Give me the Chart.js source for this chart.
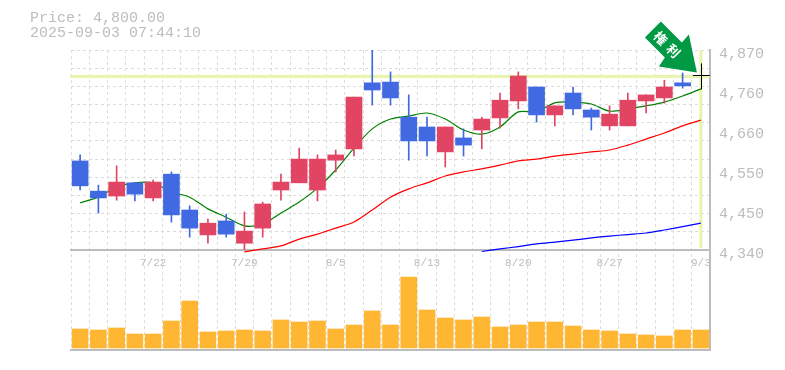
<!DOCTYPE html>
<html>
<head>
<meta charset="utf-8">
<style>
  html, body { margin: 0; padding: 0; background: #fff; }
  canvas { display: block; }
</style>
<script src="https://cdn.jsdelivr.net/npm/chart.js@4"></script>
</head>
<body>
<canvas id="c" width="785" height="370"></canvas>
<script>
// --- Data ---
const dates = ['7/15','7/16','7/17','7/18','7/22','7/23','7/24','7/25','7/28','7/29','7/30','7/31','8/1','8/4','8/5','8/6','8/7','8/8','8/12','8/13','8/14','8/15','8/18','8/19','8/20','8/21','8/22','8/25','8/26','8/27','8/28','8/29','9/1','9/2','9/3'];
const tickDates = ['7/22','7/29','8/5','8/13','8/20','8/27','9/3'];

const opens  = [4576,4496,4483,4518,4478,4541,4446,4380,4417,4358,4398,4499,4518,4499,4578,4608,4783,4785,4692,4666,4600,4637,4658,4690,4735,4772,4698,4756,4711,4669,4669,4735,4743,4783,null];
const closes = [4510,4478,4520,4488,4520,4433,4398,4411,4382,4390,4462,4520,4581,4581,4592,4745,4764,4743,4629,4629,4666,4618,4687,4737,4801,4698,4722,4714,4692,4700,4737,4751,4772,4775,null];
const highs  = [4592,4512,4563,4518,4525,4547,4457,4422,4435,4441,4467,4541,4610,4592,4605,4745,4870,4812,4751,4692,4666,4661,4692,4756,4812,4772,4722,4772,4716,4722,4756,4751,4790,4809,null];
const lows   = [4499,4438,4472,4470,4470,4414,4374,4358,4374,4337,4374,4472,4518,4470,4547,4589,4724,4724,4578,4589,4560,4589,4608,4663,4714,4679,4669,4698,4658,4658,4669,4703,4729,4769,null];
const volumes = [19,18,20,14,14,27,47,16,17,18,17,28,26,27,19,23,37,23,71,38,30,28,31,21,23,26,26,22,18,17,14,13,12,18,18];

const lastPrice = 4800;
const maShort = [4465,4480,4507,4518,4518,4494,4480,4449,4427,4404,4409,4438,4467,4504,4552,4610,4661,4687,4695,4703,4687,4658,4647,4666,4706,4706,4730,4732,4727,4708,4714,4722,4732,4748,4767];
const maMid = [null,null,null,null,null,null,null,null,null,4335,4343,4351,4369,4382,4398,4414,4446,4480,4502,4518,4536,4547,4555,4565,4576,4581,4589,4594,4600,4605,4618,4634,4650,4669,4684];
const maLong = [null,null,null,null,null,null,null,null,null,null,null,null,null,null,null,null,null,null,null,null,null,null,4336,4343,4349,4356,4361,4366,4372,4377,4381,4385,4393,4402,4411];
const priceTicks = [4870,4764,4658,4552,4446,4340];
const priceTickLabels = ['4,870','4,760','4,660','4,550','4,450','4,340'];
const headerLines = ['Price: 4,800.00','2025-09-03 07:44:10'];
const arrowLabel = '権利';

// --- Colours ---
const GRID = '#dcdcdc';
const AXIS = '#bcbcbc';
const TEXT = '#bdbdbd';
const UP = '#e24464';
const DOWN = '#4169e1';
const HILITE = '#e6f5ab';
const MONO = '"Liberation Mono", monospace';

const candleColor = opens.map((o, i) => closes[i] >= o ? UP : DOWN);

// horizontal grid every 1/11 of the price range, plus label-only ticks
const priceMin = 4340, priceMax = 4870;
const gridStep = (priceMax - priceMin) / 11;

const overlay = {
    id: 'overlay',
    beforeDatasetsDraw(chart) {
        const { ctx, chartArea, scales } = chart;
        const py = scales.y.getPixelForValue(lastPrice);
        const px = scales.x.getPixelForValue(dates[dates.length - 1]);
        ctx.save();
        ctx.fillStyle = HILITE;
        ctx.fillRect(chartArea.left - 1, py - 1.5, chartArea.width + 1, 3);
        ctx.fillRect(px - 1.5, chartArea.top, 3, scales.y.bottom - chartArea.top - 2);
        ctx.restore();
    },
    afterDraw(chart) {
        const { ctx, scales } = chart;
        const py = scales.y.getPixelForValue(lastPrice);
        const px = scales.x.getPixelForValue(dates[dates.length - 1]);
        ctx.save();
        // crosshair on the last price
        ctx.strokeStyle = '#000';
        ctx.lineWidth = 1;
        ctx.beginPath();
        ctx.moveTo(px - 8, Math.round(py) - 0.5);
        ctx.lineTo(px + 9, Math.round(py) - 0.5);
        ctx.moveTo(Math.round(px) + 0.5, py - 13);
        ctx.lineTo(Math.round(px) + 0.5, py + 13);
        ctx.stroke();

        // green arrow pointing at it
        ctx.translate(px - 4, py - 4);
        ctx.fillStyle = '#009944';
        ctx.beginPath();
        ctx.moveTo(0, 0);
        ctx.lineTo(-38, -6);
        ctx.lineTo(-32, -15);
        ctx.lineTo(-52, -35);
        ctx.lineTo(-36, -51);
        ctx.lineTo(-15, -30);
        ctx.lineTo(-8, -38);
        ctx.closePath();
        ctx.fill();
        ctx.translate(-30, -28);
        ctx.rotate(Math.PI / 4);
        ctx.fillStyle = '#fff';
        ctx.font = 'bold 13px "Noto Sans CJK JP"';
        ctx.textAlign = 'center';
        ctx.textBaseline = 'middle';
        ctx.fillText(arrowLabel[0], -9, 0);
        ctx.fillText(arrowLabel[1], 9, 0);
        ctx.restore();

        // header
        ctx.save();
        ctx.fillStyle = TEXT;
        ctx.font = '15px ' + MONO;
        ctx.textBaseline = 'middle';
        headerLines.forEach((line, i) => ctx.fillText(line, 30, 18 + i * 15));
        ctx.restore();
    }
};

new Chart(document.getElementById('c'), {
    type: 'bar',
    plugins: [overlay],
    data: {
        labels: dates,
        datasets: [
            { type: 'line', data: maShort, borderColor: '#008000', borderWidth: 1.2, pointRadius: 0, tension: 0.3, yAxisID: 'y', xAxisID: 'x', order: 3, clip: false },
            { type: 'line', data: maMid, borderColor: '#ff0000', borderWidth: 1.2, pointRadius: 0, tension: 0.3, yAxisID: 'y', xAxisID: 'x', order: 3, clip: false },
            { type: 'line', data: maLong, borderColor: '#0000ff', borderWidth: 1.2, pointRadius: 0, tension: 0.3, yAxisID: 'y', xAxisID: 'x', order: 3, clip: false },
            { data: lows.map((l, i) => l === null ? null : [l, highs[i]]), backgroundColor: candleColor, barThickness: 1, grouped: false, yAxisID: 'y', xAxisID: 'x', order: 2 },
            { data: opens.map((o, i) => o === null ? null : [o, closes[i]]), backgroundColor: candleColor, barThickness: 16, grouped: false, yAxisID: 'y', xAxisID: 'x', order: 1 },
            { data: volumes, backgroundColor: '#ffb733', barThickness: 16, grouped: false, yAxisID: 'yVol', xAxisID: 'x', order: 4 }
        ]
    },
    options: {
        responsive: false,
        animation: false,
        layout: { padding: { left: 71, top: 50, bottom: 20, right: 0 } },
        plugins: { legend: { display: false }, tooltip: { enabled: false } },
        scales: {
            x: {
                position: { y: priceMin },
                grid: { color: GRID, offset: true, drawTicks: false },
                border: { color: AXIS, width: 2, dash: [3, 3] },
                ticks: {
                    autoSkip: false, maxRotation: 0, color: TEXT, padding: 6,
                    font: { family: MONO, size: 11 },
                    callback(v) { const d = this.getLabelForValue(v); return tickDates.includes(d) ? d : ''; }
                }
            },
            xBottom: {
                position: 'bottom',
                labels: dates,
                grid: { display: false },
                ticks: { display: false },
                border: { color: AXIS, width: 2 },
                afterFit(s) { s.height = 0; }
            },
            y: {
                position: 'right', stack: 'main', stackWeight: 2, min: priceMin, max: priceMax,
                grid: {
                    drawTicks: false,
                    color: ctx => priceTicks.includes(ctx.tick?.value) && ctx.tick.value !== priceMax && ctx.tick.value !== priceMin ? 'rgba(0,0,0,0)' : GRID
                },
                border: { color: AXIS, width: 2, dash: [3, 3] },
                afterBuildTicks(s) {
                    const t = [];
                    for (let i = 0; i <= 11; i++) t.push({ value: priceMax - gridStep * i });
                    priceTicks.slice(1, -1).forEach(v => t.push({ value: v }));
                    s.ticks = t;
                },
                afterTickToLabelConversion(s) {
                    s.ticks.forEach(t => {
                        const i = priceTicks.indexOf(t.value);
                        t.label = i >= 0 ? priceTickLabels[i] : '';
                    });
                },
                ticks: { color: TEXT, padding: 9, labelOffset: 4, autoSkip: false, font: { family: MONO, size: 15 } },
                afterFit(s) { s.width = 75; }
            },
            yVol: {
                position: 'right', stack: 'main', stackWeight: 1, min: -2, max: 98,
                grid: { display: false },
                ticks: { display: false },
                border: { color: AXIS, width: 2 },
                afterFit(s) { s.width = 75; }
            }
        }
    }
});
</script>
</body>
</html>
